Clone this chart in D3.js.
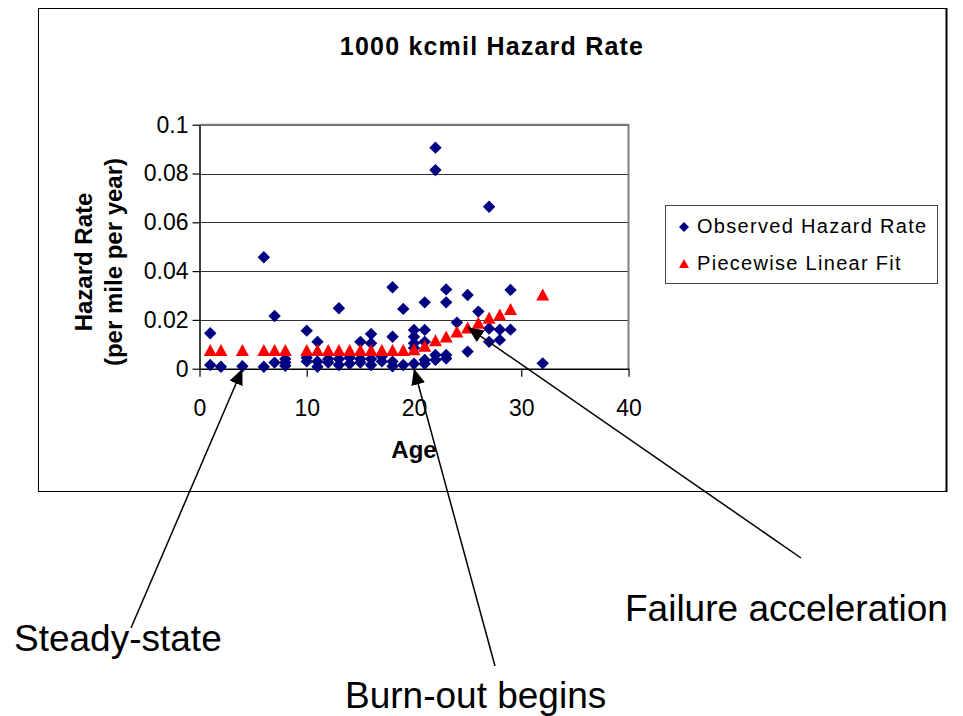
<!DOCTYPE html>
<html>
<head>
<meta charset="utf-8">
<script src="https://cdn.jsdelivr.net/npm/d3@7"></script>
<style>
  html, body { margin: 0; padding: 0; background: #fff; }
  svg { display: block; font-family: "Liberation Sans", Arial, sans-serif; }
</style>
</head>
<body>
<svg id="chart" width="963" height="716"></svg>
<script>
// ---- Data ----
const observedAge = [
  1, 1,
  2,
  4,
  6, 6,
  7, 7,
  8, 8, 8,
  10, 10, 10,
  11, 11, 11,
  12, 12,
  13, 13, 13,
  14, 14,
  15, 15, 15,
  16, 16, 16, 16,
  17, 17,
  18, 18, 18, 18,
  19, 19,
  20, 20, 20, 20, 20,
  21, 21, 21, 21, 21,
  22, 22, 22, 22,
  23, 23, 23, 23,
  24,
  25, 25,
  26,
  27, 27, 27,
  28, 28,
  29, 29,
  32
];
const observedRate = [
  0.0145, 0.0015,
  0.0008,
  0.001,
  0.0457, 0.0008,
  0.0216, 0.0025,
  0.004, 0.0025, 0.0012,
  0.0156, 0.0045, 0.003,
  0.011, 0.003, 0.0008,
  0.004, 0.0025,
  0.0248, 0.004, 0.0015,
  0.0045, 0.002,
  0.011, 0.004, 0.0025,
  0.0142, 0.0104, 0.004, 0.0015,
  0.005, 0.003,
  0.0334, 0.0131, 0.0029, 0.001,
  0.0245, 0.0015,
  0.0159, 0.0131, 0.0104, 0.0085, 0.002,
  0.0272, 0.0159, 0.011, 0.0036, 0.002,
  0.0906, 0.0814, 0.0056, 0.0036,
  0.0325, 0.0272, 0.0056, 0.0042,
  0.0189,
  0.0302, 0.007,
  0.0234,
  0.0664, 0.0165, 0.011,
  0.016, 0.0118,
  0.0323, 0.016,
  0.0022
];
const fitAge  = [1, 2, 4, 6, 7, 8, 10, 11, 12, 13, 14, 15, 16, 17, 18, 19, 20, 21, 22, 23, 24, 25, 26, 27, 28, 29, 32];
const fitRate = [0.0075, 0.0075, 0.0075, 0.0075, 0.0075, 0.0075, 0.0075, 0.0075, 0.0075, 0.0075, 0.0075, 0.0075, 0.0075, 0.0075, 0.0075, 0.0075, 0.0078,
                 0.0092, 0.0115, 0.0130, 0.0150, 0.0167, 0.0186, 0.0207, 0.0220, 0.0243, 0.0302];
const xTicks = [0, 10, 20, 30, 40];
const yTicks = [0, 0.02, 0.04, 0.06, 0.08, 0.1];
const yTickLabels = ["0", "0.02", "0.04", "0.06", "0.08", "0.1"];
const seriesNames = ["Observed Hazard Rate", "Piecewise Linear Fit"];
const chartTitle = "1000 kcmil Hazard Rate";
const xTitle = "Age";
const yTitleLines = ["Hazard Rate", "(per mile per year)"];
// annotations: label + data point the arrow points to
const annotations = [
  { label: "Steady-state",         age: 4,  rate: 0.0,   tx: 14,  ty: 651, lx: 131, ly: 628 },
  { label: "Burn-out begins",      age: 20, rate: 0.0,   tx: 345, ty: 708, lx: 495, ly: 666 },
  { label: "Failure acceleration", age: 25, rate: 0.017, tx: 625, ty: 621, lx: 801, ly: 558 }
];

// ---- Layout ----
const svg = d3.select("#chart");
const plot = { left: 199.5, right: 628.5, top: 124.7, bottom: 368.7 };
const x = d3.scaleLinear().domain([0, 40]).range([plot.left, plot.right]);
const y = d3.scaleLinear().domain([0, 0.1]).range([plot.bottom, plot.top]);
const NAVY = "#000080", RED = "#ff0000";

// outer frame
svg.append("rect").attr("x", 38.5).attr("y", 8.5).attr("width", 908).attr("height", 483)
  .attr("fill", "#fff").attr("stroke", "#000").attr("stroke-width", 1);
svg.append("line").attr("x1", 946.5).attr("x2", 946.5).attr("y1", 8).attr("y2", 492)
  .attr("stroke", "#000").attr("stroke-width", 2);

// title
svg.append("text").attr("x", 492).attr("y", 55).attr("text-anchor", "middle")
  .attr("font-size", 25).attr("letter-spacing", 1.2).attr("font-weight", "bold").text(chartTitle);

// gridlines
svg.append("g").selectAll("line").data(yTicks.filter(d => d > 0)).join("line")
  .attr("x1", plot.left).attr("x2", plot.right)
  .attr("y1", d => Math.round(y(d)) + 0.5).attr("y2", d => Math.round(y(d)) + 0.5)
  .attr("stroke", "#333").attr("stroke-width", 1);

// plot border (top/right gray)
svg.append("path")
  .attr("d", `M${plot.left},${plot.top}H${plot.right}V${plot.bottom}`)
  .attr("fill", "none").attr("stroke", "#808080").attr("stroke-width", 2);

// axes
const yAxis = d3.axisLeft(y).tickValues(yTicks).tickFormat((d, i) => yTickLabels[i])
  .tickSizeInner(7).tickSizeOuter(0).tickPadding(4);
const gy = svg.append("g").attr("transform", `translate(${plot.left},0)`).call(yAxis);
const xAxis = d3.axisBottom(x).tickValues(xTicks).tickFormat(d3.format("d"))
  .tickSizeInner(8).tickSizeOuter(0).tickPadding(23);
const gx = svg.append("g").attr("transform", `translate(0,${plot.bottom})`).call(xAxis);
[gx, gy].forEach(g => {
  g.select(".domain").attr("stroke", "#000").attr("stroke-width", 1.5);
  g.selectAll(".tick line").attr("stroke", "#000").attr("stroke-width", 1.2);
  g.selectAll(".tick text").attr("font-size", 23).attr("fill", "#000")
    .attr("font-family", "'Liberation Sans', Arial, sans-serif");
});

// axis titles
svg.append("text").attr("x", 414).attr("y", 458).attr("text-anchor", "middle")
  .attr("font-size", 24).attr("font-weight", "bold").text(xTitle);
yTitleLines.forEach((t, i) => {
  svg.append("text")
    .attr("transform", `translate(${92 + i * 30},${262}) rotate(-90)`)
    .attr("text-anchor", "middle").attr("font-size", 24).attr("font-weight", "bold")
    .text(t);
});

// markers
const diamondPath = "M0,-6.2L6.2,0L0,6.2L-6.2,0Z";
const trianglePath = "M0,-6.5L6.5,5.5L-6.5,5.5Z";
const observed = observedAge.map((a, i) => ({ a, r: observedRate[i] }));
const fit = fitAge.map((a, i) => ({ a, r: fitRate[i] }));

svg.append("g").selectAll("path").data(observed).join("path")
  .attr("d", diamondPath).attr("fill", NAVY)
  .attr("transform", d => `translate(${x(d.a)},${y(d.r)})`);
svg.append("g").selectAll("path").data(fit).join("path")
  .attr("d", trianglePath).attr("fill", RED)
  .attr("transform", d => `translate(${x(d.a)},${y(d.r)})`);

// legend
const lg = svg.append("g");
lg.append("rect").attr("x", 665.5).attr("y", 205.5).attr("width", 272).attr("height", 78)
  .attr("fill", "#fff").attr("stroke", "#444").attr("stroke-width", 1);
lg.append("path").attr("d", "M0,-5L5,0L0,5L-5,0Z").attr("fill", NAVY)
  .attr("transform", "translate(684,227)");
lg.append("path").attr("d", "M0,-5L5,4L-5,4Z").attr("fill", RED)
  .attr("transform", "translate(684,264)");
lg.append("text").attr("x", 697).attr("y", 233).attr("font-size", 20).attr("letter-spacing", 1.3)
  .text(seriesNames[0]);
lg.append("text").attr("x", 697).attr("y", 270).attr("font-size", 20).attr("letter-spacing", 1.3)
  .text(seriesNames[1]);

// arrows and annotation labels
const defs = svg.append("defs");
defs.append("marker").attr("id", "ah").attr("viewBox", "0 0 16 14")
  .attr("refX", 16).attr("refY", 7).attr("markerWidth", 16).attr("markerHeight", 14)
  .attr("markerUnits", "userSpaceOnUse").attr("orient", "auto")
  .append("path").attr("d", "M0,0L16,7L0,14Z").attr("fill", "#000");

annotations.forEach(an => {
  svg.append("line")
    .attr("x1", an.lx).attr("y1", an.ly)
    .attr("x2", x(an.age)).attr("y2", y(an.rate))
    .attr("stroke", "#000").attr("stroke-width", 1.5).attr("marker-end", "url(#ah)");
  svg.append("text").attr("x", an.tx).attr("y", an.ty).attr("font-size", 37).text(an.label);
});
</script>
</body>
</html>
